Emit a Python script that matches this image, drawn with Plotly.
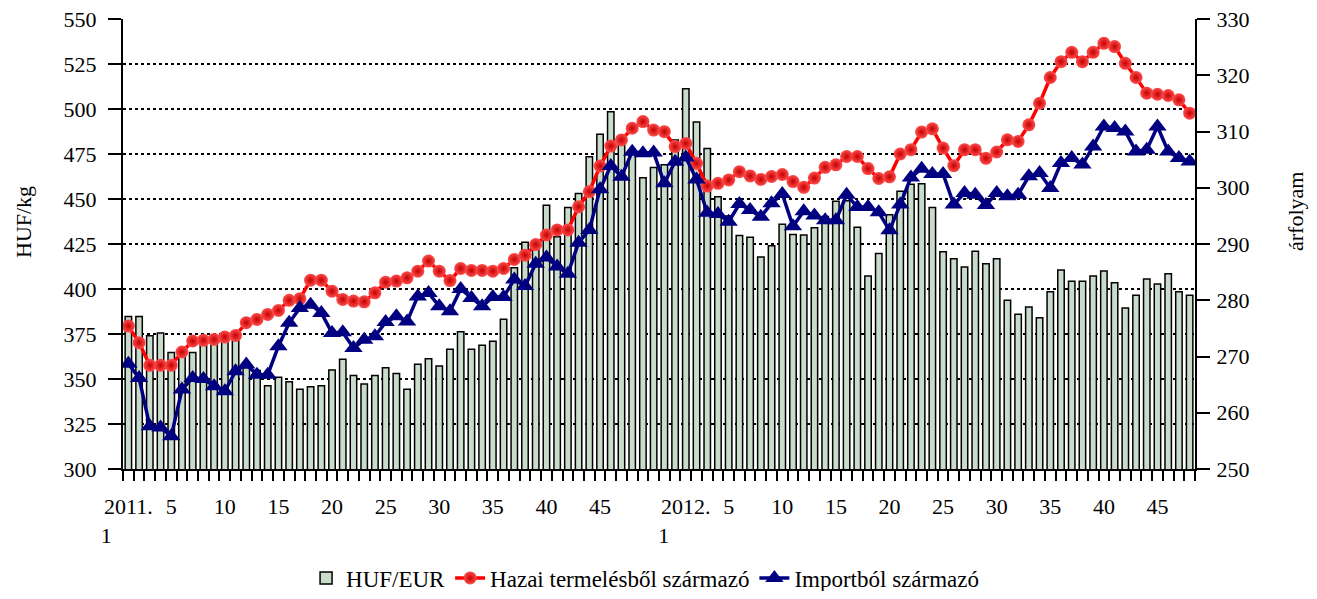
import plotly.graph_objects as go

# hetek: 2011. 1-52, 2012. 1-48
ev_2011 = 52
ev_2012 = 48

# HUF/EUR árfolyam (jobb tengely)
huf_eur = [
    277.1, 277.1, 273.7, 274.2, 270.7, 271.0, 270.7, 272.5, 273.0, 273.2,
    273.5, 268.0, 267.5, 264.8, 266.3, 265.5, 264.2, 264.6, 264.8, 267.6,
    269.5, 266.6, 265.1, 266.6, 268.0, 267.0, 264.2, 268.6, 269.6, 268.3,
    271.3, 274.4, 271.3, 272.0, 272.7, 276.6, 285.8, 290.3, 289.5, 296.9,
    291.3, 296.5, 299.0, 305.5, 309.5, 313.5, 307.6, 306.4, 301.8, 303.6,
    304.1, 308.5, 317.6, 311.7, 307.0, 298.4, 295.0, 291.5, 291.2, 287.7,
    289.7, 293.5, 291.7, 291.6, 292.9, 294.9, 297.6, 297.7, 293.0, 284.3,
    288.3, 295.2, 299.4, 300.6, 300.7, 296.5, 288.6, 287.4, 285.9, 288.7,
    286.5, 287.4, 280.0, 277.5, 278.8, 276.9, 281.5, 285.4, 283.4, 283.4,
    284.3, 285.2, 283.1, 278.6, 280.9, 283.8, 282.9, 284.7, 281.5, 280.9,
]

# Hazai termelésből származó (HUF/kg)
hazai = [
    379.4, 370.2, 357.6, 357.6, 357.6, 365.0, 371.1, 371.5, 372.0, 373.3,
    374.2, 381.3, 383.1, 385.9, 388.1, 393.7, 394.6, 404.9, 404.9, 398.8,
    394.2, 393.3, 392.9, 397.9, 403.8, 404.4, 406.2, 409.9, 415.5, 409.9,
    404.7, 411.4, 410.3, 410.3, 409.9, 411.4, 416.4, 418.8, 424.7, 430.0,
    432.8, 432.8, 445.7, 454.1, 468.3, 479.4, 482.8, 489.3, 493.0, 488.3,
    487.4, 479.1, 480.9, 469.8, 457.2, 458.7, 460.6, 465.2, 462.8, 460.9,
    462.5, 463.6, 459.7, 456.5, 461.6, 467.6, 469.0, 473.6, 473.6, 466.9,
    461.4, 462.3, 475.0, 477.4, 487.2, 489.0, 478.3, 468.5, 477.4, 477.4,
    472.6, 476.1, 482.9, 482.0, 491.2, 503.2, 517.5, 526.3, 531.5, 526.3,
    531.5, 536.5, 534.7, 525.4, 517.5, 508.8, 508.2, 507.5, 505.1, 497.7,
]

# Importból származó (HUF/kg)
import_ar = [
    358.5, 350.5, 323.8, 323.0, 318.2, 344.1, 350.6, 350.0, 346.0, 343.2,
    354.3, 358.0, 352.4, 352.4, 368.2, 381.2, 389.5, 391.3, 386.7, 375.6,
    376.0, 367.2, 371.8, 373.7, 381.6, 384.8, 382.0, 395.9, 397.8, 390.4,
    387.6, 400.0, 395.0, 390.4, 395.5, 395.5, 405.3, 401.6, 414.0, 417.5,
    412.5, 408.5, 425.7, 432.8, 455.4, 468.3, 462.4, 476.3, 475.4, 475.8,
    458.7, 470.7, 473.1, 460.9, 442.4, 441.7, 437.4, 447.2, 443.9, 440.1,
    447.7, 452.8, 434.8, 443.2, 440.8, 438.2, 438.2, 452.3, 445.5, 445.5,
    442.6, 432.6, 446.9, 462.0, 466.8, 463.9, 463.9, 446.9, 453.4, 452.4,
    446.6, 453.4, 451.5, 452.4, 462.6, 464.4, 456.1, 470.0, 472.8, 469.1,
    479.2, 490.3, 489.4, 487.5, 476.4, 477.4, 490.3, 476.4, 472.8, 470.9,
]

# tengelyfeliratok (minden 5. hét)
cimke_hetek = [5, 10, 15, 20, 25, 30, 35, 40, 45]

x = list(range(1, ev_2011 + ev_2012 + 1))
nb = "\u00a0"
tickvals = [1] + cimke_hetek + [ev_2011 + 1] + [ev_2011 + h for h in cimke_hetek]
ticktext = (["2011.<br>1" + nb * 8] + [str(h) for h in cimke_hetek]
            + ["2012.<br>1" + nb * 8] + [str(h) for h in cimke_hetek])

betu = "Liberation Serif, Times New Roman, serif"

fig = go.Figure()

# oszlopok (árfolyam) - a fő y tengelyen, hogy a vonalak alatt legyenek
fig.add_trace(go.Bar(
    x=x, y=huf_eur, name="HUF/EUR",
    marker=dict(color="#c9dccb", line=dict(color="black", width=1.5)),
    yaxis="y",
))

fig.add_trace(go.Scatter(
    x=x, y=hazai, name="Hazai termelésből származó",
    mode="lines+markers",
    line=dict(color="#ff0000", width=3.5),
    marker=dict(symbol="circle", size=13, color="#ff4d4d",
                gradient=dict(type="radial", color="#c40000"),
                line=dict(width=0)),
    yaxis="y2",
))

fig.add_trace(go.Scatter(
    x=x, y=import_ar, name="Importból származó",
    mode="lines+markers",
    line=dict(color="#000080", width=3.5),
    marker=dict(symbol="triangle-up", size=16, color="#000080",
                line=dict(width=0)),
    yaxis="y2",
))

# a body 8px margója miatt a lap kisebb az ablaknál
fig.update_layout(
    width=1301, height=583,
    template="simple_white",
    plot_bgcolor="white", paper_bgcolor="white",
    font=dict(family=betu, size=22, color="black"),
    margin=dict(l=115, r=114, t=11, b=122),
    bargap=0.4,
    showlegend=True,
    legend=dict(
        orientation="h",
        x=0.487, xanchor="center",
        yref="container", y=(583 - 570) / 583, yanchor="middle",
        font=dict(size=23),
        bgcolor="rgba(0,0,0,0)",
        itemwidth=30,
    ),
    xaxis=dict(
        range=[0.5, 100.5], automargin=False,
        tickmode="array", tickvals=tickvals, ticktext=ticktext,
        ticks="outside", ticklen=17, tickcolor="rgba(0,0,0,0)",
        showline=True, linecolor="black", linewidth=2,
        showgrid=False, zeroline=False,
        minor=dict(tickmode="array",
                   tickvals=[i + 0.5 for i in range(0, 101)],
                   ticks="outside", ticklen=10, tickwidth=2,
                   tickcolor="black", showgrid=False),
        tickangle=0,
    ),
    # árfolyam tengely (jobb oldal)
    yaxis=dict(
        range=[250, 330], side="right", automargin=False,
        tickmode="array", tickvals=list(range(250, 331, 10)),
        ticks="outside", ticklen=13, tickwidth=2, tickcolor="black",
        ticklabelstandoff=2, ticklabeloverflow="allow",
        showline=True, linecolor="black", linewidth=2,
        showgrid=False, zeroline=False,
    ),
    # HUF/kg tengely (bal oldal)
    yaxis2=dict(
        range=[300, 550], side="left", overlaying="y", automargin=False,
        tickmode="array", tickvals=list(range(300, 551, 25)),
        ticks="outside", ticklen=13, tickwidth=2, tickcolor="black",
        ticklabelstandoff=7, ticklabeloverflow="allow",
        showline=True, linecolor="black", linewidth=2,
        showgrid=True, gridcolor="black", gridwidth=2,
        griddash="3px,3px",
        zeroline=False,
    ),
    annotations=[
        dict(text="HUF/kg", xref="paper", yref="paper",
             x=(23 - 123) / 1072, y=(469 - 222) / 450,
             textangle=-90, showarrow=False,
             xanchor="center", yanchor="middle", font=dict(size=22)),
        dict(text="árfolyam", xref="paper", yref="paper",
             x=(1295 - 123) / 1072, y=(469 - 212) / 450,
             textangle=-90, showarrow=False,
             xanchor="center", yanchor="middle", font=dict(size=22)),
    ],
)

fig.write_html("out.html")
